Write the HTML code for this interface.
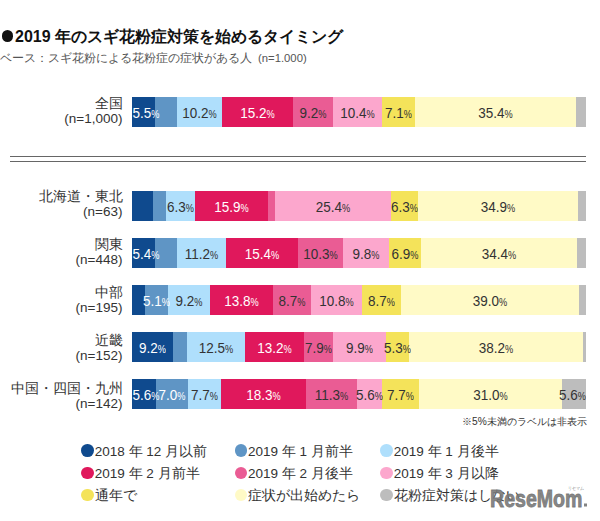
<!DOCTYPE html>
<html><head><meta charset="utf-8">
<style>
html,body{margin:0;padding:0;background:#fff;}
body{width:600px;height:521px;position:relative;overflow:hidden;font-family:"Liberation Sans",sans-serif;color:#333;}
.s{position:absolute;height:30px;}
.v{position:absolute;width:80px;height:30px;line-height:31px;text-align:center;font-size:13.5px;white-space:nowrap;transform:scaleY(1.14);transform-origin:50% 60%;}
.v small{font-size:9.2px;}
.l1,.l2{position:absolute;left:0;width:122.5px;text-align:right;line-height:16px;color:#333;white-space:nowrap;}
.l1{font-size:14px;}
.l2{font-size:13.5px;}
.dot{position:absolute;width:12.8px;height:12.8px;border-radius:50%;}
.lt{position:absolute;font-size:13.5px;line-height:16px;color:#333;white-space:nowrap;}
.bul{position:absolute;left:1.5px;top:30.3px;width:11.5px;height:11.5px;border-radius:50%;background:#111;}
.title{position:absolute;left:15px;top:27.6px;font-size:16px;font-weight:bold;color:#111;white-space:nowrap;line-height:18px;}
.sub{position:absolute;left:0;top:50.5px;font-size:12px;color:#555;white-space:nowrap;line-height:14px;}
.hr{position:absolute;left:10px;width:576px;height:1px;background:#666;}
.note{position:absolute;left:462px;top:415px;font-size:10.2px;line-height:13px;color:#333;white-space:nowrap;}
</style></head><body>
<div class="bul"></div>
<div class="title">2019 年のスギ花粉症対策を始めるタイミング</div>
<div class="sub">ベース：スギ花粉による花粉症の症状がある人<span style="font-size:11.3px;margin-left:6px">(n=1.000)</span></div>
<div class="hr" style="top:156px"></div>
<div class="hr" style="top:161px"></div>
<div class="s" style="left:132px;top:97px;width:23px;background:#0f4a8e"></div><div class="s" style="left:155px;top:97px;width:22px;background:#5f95c5"></div><div class="s" style="left:177px;top:97px;width:45px;background:#afdffc"></div><div class="s" style="left:222px;top:97px;width:71px;background:#e0185c"></div><div class="s" style="left:293px;top:97px;width:40px;background:#ea5c94"></div><div class="s" style="left:333px;top:97px;width:49px;background:#fca7cd"></div><div class="s" style="left:382px;top:97px;width:33px;background:#f4e35a"></div><div class="s" style="left:415px;top:97px;width:161px;background:#fffac6"></div><div class="s" style="left:576px;top:97px;width:10px;background:#bdbdbd"></div><div class="v" style="left:132.5px;text-align:left;top:98.2px;color:#fff">5.5<small>%</small></div><div class="v" style="left:159.5px;top:98.2px;color:#333">10.2<small>%</small></div><div class="v" style="left:217.5px;top:98.2px;color:#fff">15.2<small>%</small></div><div class="v" style="left:273.0px;top:98.2px;color:#333">9.2<small>%</small></div><div class="v" style="left:317.5px;top:98.2px;color:#333">10.4<small>%</small></div><div class="v" style="left:358.5px;top:98.2px;color:#333">7.1<small>%</small></div><div class="v" style="left:455.5px;top:98.2px;color:#333">35.4<small>%</small></div><div class="s" style="left:132px;top:191px;width:21px;background:#0f4a8e"></div><div class="s" style="left:153px;top:191px;width:13px;background:#5f95c5"></div><div class="s" style="left:166px;top:191px;width:29px;background:#afdffc"></div><div class="s" style="left:195px;top:191px;width:73px;background:#e0185c"></div><div class="s" style="left:268px;top:191px;width:7px;background:#ea5c94"></div><div class="s" style="left:275px;top:191px;width:116px;background:#fca7cd"></div><div class="s" style="left:391px;top:191px;width:27px;background:#f4e35a"></div><div class="s" style="left:418px;top:191px;width:160px;background:#fffac6"></div><div class="s" style="left:578px;top:191px;width:8px;background:#bdbdbd"></div><div class="v" style="left:140.5px;top:192.2px;color:#333">6.3<small>%</small></div><div class="v" style="left:191.5px;top:192.2px;color:#fff">15.9<small>%</small></div><div class="v" style="left:293.0px;top:192.2px;color:#333">25.4<small>%</small></div><div class="v" style="left:364.5px;top:192.2px;color:#333">6.3<small>%</small></div><div class="v" style="left:458.0px;top:192.2px;color:#333">34.9<small>%</small></div><div class="s" style="left:132px;top:238px;width:23px;background:#0f4a8e"></div><div class="s" style="left:155px;top:238px;width:22px;background:#5f95c5"></div><div class="s" style="left:177px;top:238px;width:49px;background:#afdffc"></div><div class="s" style="left:226px;top:238px;width:72px;background:#e0185c"></div><div class="s" style="left:298px;top:238px;width:45px;background:#ea5c94"></div><div class="s" style="left:343px;top:238px;width:46px;background:#fca7cd"></div><div class="s" style="left:389px;top:238px;width:32px;background:#f4e35a"></div><div class="s" style="left:421px;top:238px;width:156px;background:#fffac6"></div><div class="s" style="left:577px;top:238px;width:9px;background:#bdbdbd"></div><div class="v" style="left:132.5px;text-align:left;top:239.2px;color:#fff">5.4<small>%</small></div><div class="v" style="left:161.5px;top:239.2px;color:#333">11.2<small>%</small></div><div class="v" style="left:222.0px;top:239.2px;color:#fff">15.4<small>%</small></div><div class="v" style="left:280.5px;top:239.2px;color:#333">10.3<small>%</small></div><div class="v" style="left:326.0px;top:239.2px;color:#333">9.8<small>%</small></div><div class="v" style="left:365.0px;top:239.2px;color:#333">6.9<small>%</small></div><div class="v" style="left:459.0px;top:239.2px;color:#333">34.4<small>%</small></div><div class="s" style="left:132px;top:285px;width:13px;background:#0f4a8e"></div><div class="s" style="left:145px;top:285px;width:23px;background:#5f95c5"></div><div class="s" style="left:168px;top:285px;width:42px;background:#afdffc"></div><div class="s" style="left:210px;top:285px;width:63px;background:#e0185c"></div><div class="s" style="left:273px;top:285px;width:38px;background:#ea5c94"></div><div class="s" style="left:311px;top:285px;width:51px;background:#fca7cd"></div><div class="s" style="left:362px;top:285px;width:39px;background:#f4e35a"></div><div class="s" style="left:401px;top:285px;width:178px;background:#fffac6"></div><div class="s" style="left:579px;top:285px;width:7px;background:#bdbdbd"></div><div class="v" style="left:116.5px;top:286.2px;color:#fff">5.1<small>%</small></div><div class="v" style="left:149.0px;top:286.2px;color:#333">9.2<small>%</small></div><div class="v" style="left:201.5px;top:286.2px;color:#fff">13.8<small>%</small></div><div class="v" style="left:252.0px;top:286.2px;color:#333">8.7<small>%</small></div><div class="v" style="left:296.5px;top:286.2px;color:#333">10.8<small>%</small></div><div class="v" style="left:341.5px;top:286.2px;color:#333">8.7<small>%</small></div><div class="v" style="left:450.0px;top:286.2px;color:#333">39.0<small>%</small></div><div class="s" style="left:132px;top:332px;width:41px;background:#0f4a8e"></div><div class="s" style="left:173px;top:332px;width:14px;background:#5f95c5"></div><div class="s" style="left:187px;top:332px;width:58px;background:#afdffc"></div><div class="s" style="left:245px;top:332px;width:59px;background:#e0185c"></div><div class="s" style="left:304px;top:332px;width:29px;background:#ea5c94"></div><div class="s" style="left:333px;top:332px;width:53px;background:#fca7cd"></div><div class="s" style="left:386px;top:332px;width:23px;background:#f4e35a"></div><div class="s" style="left:409px;top:332px;width:174px;background:#fffac6"></div><div class="s" style="left:583px;top:332px;width:3px;background:#bdbdbd"></div><div class="v" style="left:112.5px;top:333.2px;color:#fff">9.2<small>%</small></div><div class="v" style="left:176.0px;top:333.2px;color:#333">12.5<small>%</small></div><div class="v" style="left:234.5px;top:333.2px;color:#fff">13.2<small>%</small></div><div class="v" style="left:278.5px;top:333.2px;color:#333">7.9<small>%</small></div><div class="v" style="left:319.5px;top:333.2px;color:#333">9.9<small>%</small></div><div class="v" style="left:357.5px;top:333.2px;color:#333">5.3<small>%</small></div><div class="v" style="left:456.0px;top:333.2px;color:#333">38.2<small>%</small></div><div class="s" style="left:132px;top:379px;width:24px;background:#0f4a8e"></div><div class="s" style="left:156px;top:379px;width:32px;background:#5f95c5"></div><div class="s" style="left:188px;top:379px;width:33px;background:#afdffc"></div><div class="s" style="left:221px;top:379px;width:85px;background:#e0185c"></div><div class="s" style="left:306px;top:379px;width:51px;background:#ea5c94"></div><div class="s" style="left:357px;top:379px;width:25px;background:#fca7cd"></div><div class="s" style="left:382px;top:379px;width:37px;background:#f4e35a"></div><div class="s" style="left:419px;top:379px;width:143px;background:#fffac6"></div><div class="s" style="left:562px;top:379px;width:24px;background:#bdbdbd"></div><div class="v" style="left:132.5px;text-align:left;top:380.2px;color:#fff">5.6<small>%</small></div><div class="v" style="left:132.0px;top:380.2px;color:#fff">7.0<small>%</small></div><div class="v" style="left:164.5px;top:380.2px;color:#333">7.7<small>%</small></div><div class="v" style="left:223.5px;top:380.2px;color:#fff">18.3<small>%</small></div><div class="v" style="left:291.5px;top:380.2px;color:#333">11.3<small>%</small></div><div class="v" style="left:329.5px;top:380.2px;color:#333">5.6<small>%</small></div><div class="v" style="left:360.5px;top:380.2px;color:#333">7.7<small>%</small></div><div class="v" style="left:450.5px;top:380.2px;color:#333">31.0<small>%</small></div><div class="v" style="left:506px;text-align:right;top:380.2px;color:#333">5.6<small>%</small></div><div class="l1" style="top:95.0px">全国</div><div class="l2" style="top:111.3px">(n=1,000)</div><div class="l1" style="top:188.4px">北海道・東北</div><div class="l2" style="top:204.3px">(n=63)</div><div class="l1" style="top:236.4px">関東</div><div class="l2" style="top:252.3px">(n=448)</div><div class="l1" style="top:284.1px">中部</div><div class="l2" style="top:300.4px">(n=195)</div><div class="l1" style="top:332.3px">近畿</div><div class="l2" style="top:348.2px">(n=152)</div><div class="l1" style="top:380.4px">中国・四国・九州</div><div class="l2" style="top:396.3px">(n=142)</div><div class="dot" style="left:81.3px;top:444px;background:#0f4a8e"></div><div class="lt" style="left:94.8px;top:443.5px">2018 年 12 月以前</div><div class="dot" style="left:234.5px;top:444px;background:#5f95c5"></div><div class="lt" style="left:248.0px;top:443.5px">2019 年 1 月前半</div><div class="dot" style="left:380.3px;top:444px;background:#afdffc"></div><div class="lt" style="left:393.8px;top:443.5px">2019 年 1 月後半</div><div class="dot" style="left:81.3px;top:466.5px;background:#e0185c"></div><div class="lt" style="left:94.8px;top:466.0px">2019 年 2 月前半</div><div class="dot" style="left:234.5px;top:466.5px;background:#ea5c94"></div><div class="lt" style="left:248.0px;top:466.0px">2019 年 2 月後半</div><div class="dot" style="left:380.3px;top:466.5px;background:#fca7cd"></div><div class="lt" style="left:393.8px;top:466.0px">2019 年 3 月以降</div><div class="dot" style="left:81.3px;top:488.5px;background:#f4e35a"></div><div class="lt" style="left:94.8px;top:488.0px">通年で</div><div class="dot" style="left:234.5px;top:488.5px;background:#fffac6"></div><div class="lt" style="left:248.0px;top:488.0px">症状が出始めたら</div><div class="dot" style="left:380.3px;top:488.5px;background:#bdbdbd"></div><div class="lt" style="left:393.8px;top:488.0px">花粉症対策はしない</div>
<div class="note">※5%未満のラベルは非表示</div>
<svg style="position:absolute;left:0;top:0" width="600" height="521"><text x="490" y="506.6" textLength="92.5" lengthAdjust="spacingAndGlyphs" font-family="Liberation Sans" font-weight="bold" font-size="24.5" fill="rgba(118,118,118,0.9)" stroke="rgba(118,118,118,0.9)" stroke-width="0.9">ReseMom</text><rect x="584" y="503.5" width="3" height="3" fill="rgba(118,118,118,0.9)"/><text x="568" y="490" textLength="16" lengthAdjust="spacingAndGlyphs" font-family="Liberation Sans" font-size="4.5" fill="rgba(105,105,105,0.8)">リセマム</text></svg>
</body></html>
